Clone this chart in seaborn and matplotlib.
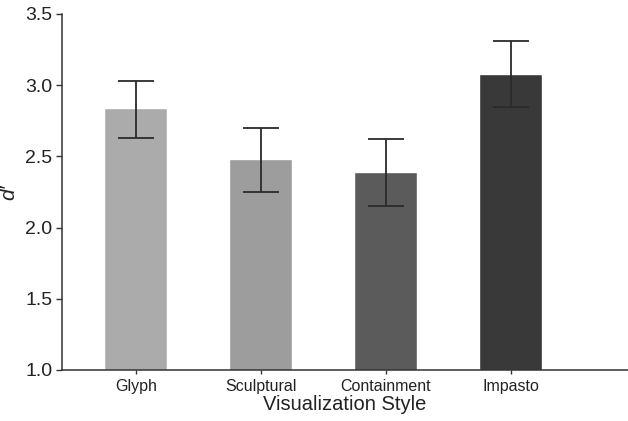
import pandas as pd
import seaborn as sns
import matplotlib.pyplot as plt

# values
styles = ["Glyph", "Sculptural", "Containment", "Impasto"]
dprime = [2.84, 2.48, 2.39, 3.08]
err_low = [2.63, 2.25, 2.15, 2.85]
err_high = [3.03, 2.70, 2.62, 3.31]
bar_colours = ["#ababab", "#9d9d9d", "#5b5b5b", "#393939"]

df = pd.DataFrame({"style": styles, "dprime": dprime})

sns.set_style("ticks")
plt.rcParams["font.family"] = ["Liberation Sans", "DejaVu Sans"]

fig = plt.figure(figsize=(6.28, 4.21), dpi=100)
ax = fig.add_axes([62 / 628, 51 / 421, 566 / 628, 356 / 421])

sns.barplot(data=df, x="style", y="dprime", hue="style", palette=bar_colours,
            width=0.5, errorbar=None, legend=False, ax=ax, bottom=0)

lower = [d - lo for d, lo in zip(dprime, err_low)]
upper = [hi - d for d, hi in zip(dprime, err_high)]
ax.errorbar(range(len(styles)), dprime, yerr=[lower, upper], fmt="none",
            ecolor="#2b2b2b", elinewidth=1.3, capsize=13, capthick=1.3)

ax.set_ylim(1.0, 3.5)
ax.set_xlim(-0.59, 3.94)
ax.set_yticks([1.0, 1.5, 2.0, 2.5, 3.0, 3.5])
ax.set_yticklabels(["1.0", "1.5", "2.0", "2.5", "3.0", "3.5"])
ax.tick_params(axis="y", labelsize=14, length=4, width=1, colors="#333333", labelcolor="#222222", pad=3)
ax.tick_params(axis="x", labelsize=11.5, length=3, width=1, colors="#333333", labelcolor="#222222")

ax.set_xlabel("Visualization Style", fontsize=14.5, color="#222222", labelpad=1)
ax.set_ylabel("d\u2032", fontsize=15, style="italic", color="#222222")
ax.yaxis.set_label_coords(-0.078, 0.5)

sns.despine(ax=ax)
for side in ["left", "bottom"]:
    ax.spines[side].set_color("#333333")
    ax.spines[side].set_linewidth(1.1)

fig.savefig("out.png", dpi=100)
